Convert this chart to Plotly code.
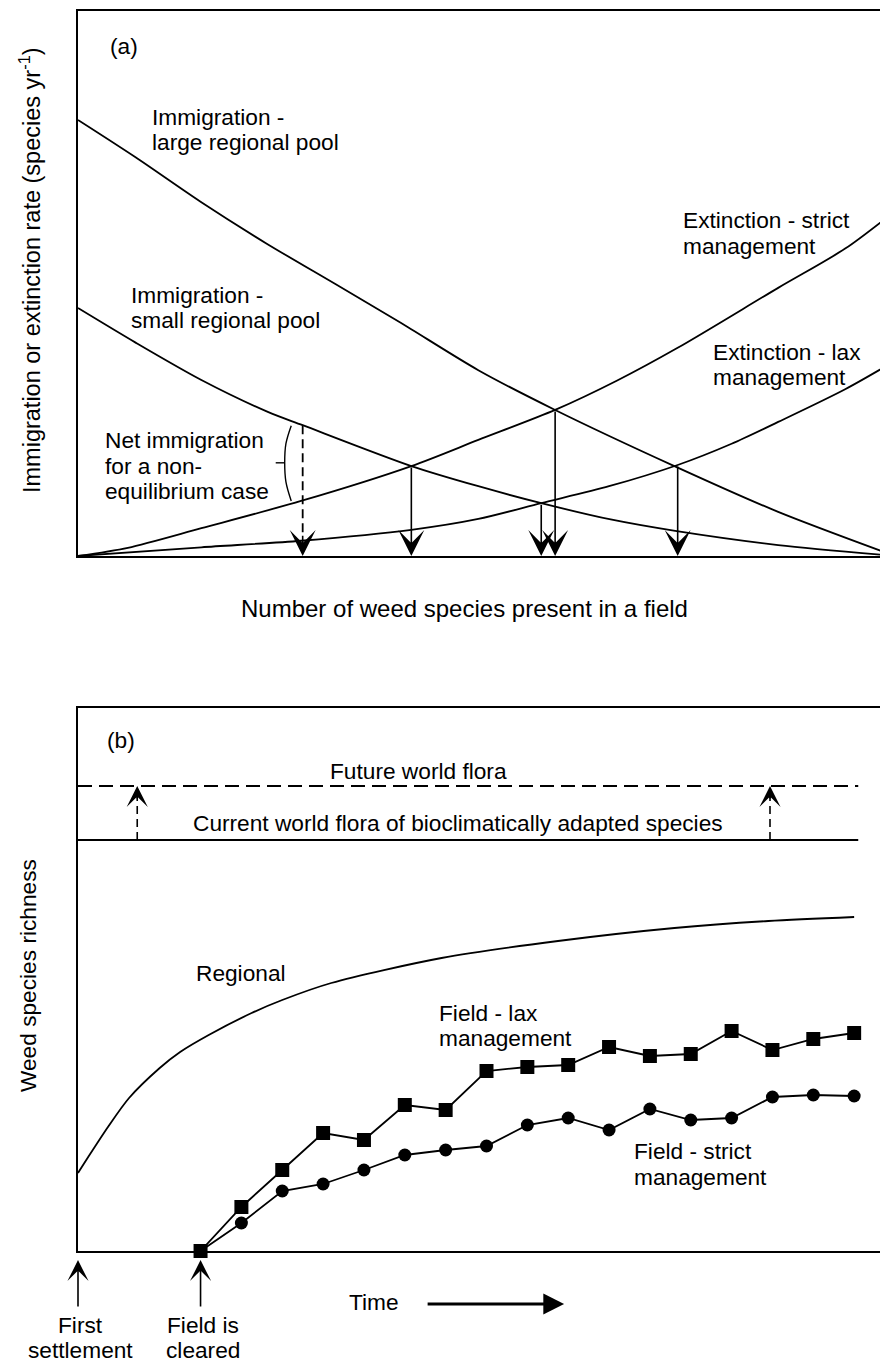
import plotly.graph_objects as go

# ---------------- Panel (a) data (x: species present 0-100, y: rate 0-100) ----------------
a_large_x = [0, 7, 15, 23, 31.5, 39.5, 49, 58.4, 73, 85.7, 100]
a_large_y = [80, 73.2, 65.0, 57.4, 49.9, 42.8, 34.1, 26.8, 16.5, 8.1, 0]
a_small_x = [0, 7, 15.1, 23.3, 27.5, 40.8, 49, 56.7, 65.2, 73.1, 85.7, 100]
a_small_y = [45.5, 39.2, 32.3, 26.4, 24.0, 16.5, 12.8, 9.7, 6.7, 4.6, 2.0, 0]
a_strict_x = [0, 6.1, 15.1, 27.3, 40.8, 49, 58.4, 66, 73.4, 85.7, 93.9, 100]
a_strict_y = [0, 1.5, 5.1, 10.1, 16.5, 21.3, 26.8, 32.2, 38.2, 49.2, 56.4, 63.3]
a_lax_x = [0, 15.1, 27.3, 40.8, 49, 56.7, 65, 73.4, 80, 85.7, 93.9, 100]
a_lax_y = [0, 1.6, 2.8, 4.8, 6.8, 9.7, 12.8, 16.7, 20.6, 24.6, 30.6, 35.8]
# equilibrium points (intersections) -> arrows down to the x axis
a_eq_x = [40.8, 56.7, 58.4, 73.4]
a_eq_y = [16.5, 9.7, 26.8, 16.7]
# non-equilibrium case
a_neq_x = 27.5
a_neq_top = 24.0
bracket_x = [26.1, 25.45, 25.3, 25.45, 26.1]
bracket_y = [23.9, 20.6, 17.1, 13.6, 10.1]
bracket_tick_x = [24.2, 25.3]

# ---------------- Panel (b) data (x: time, y: richness) ----------------
b_time = [3, 4, 5, 6, 7, 8, 9, 10, 11, 12, 13, 14, 15, 16, 17, 18, 19]
b_lax = [0, 44, 81, 118, 111, 146, 141, 180, 184, 186, 204, 195, 197, 220, 201, 212, 218]
b_strict = [0, 28, 60, 67, 81, 96, 101, 105, 126, 133, 121, 142, 131, 133, 154, 156, 155]
reg_time = [0, 0.25, 0.75, 1.25, 2, 2.5, 3.2, 4.25, 5, 6.2, 8.9, 11.75, 14.6, 16.9, 19]
reg_vals = [78, 94, 125, 153, 183, 199, 216, 238, 251, 268, 293, 310, 323, 330, 334]
flora_current = 411
flora_future = 465
flora_end = 19.1
flora_arrow_t = [1.45, 16.94]

W, H = 888, 1364
FONT = "Liberation Sans, Arial, Helvetica, sans-serif"
FS = 22.7


def py(p):
    return 1 - p / H


fig = go.Figure()

for xs, ys in [(a_large_x, a_large_y), (a_small_x, a_small_y),
               (a_strict_x, a_strict_y), (a_lax_x, a_lax_y)]:
    fig.add_trace(go.Scatter(x=xs, y=ys, mode="lines",
                             line=dict(color="black", width=1.8, shape="spline", smoothing=0.8),
                             xaxis="x", yaxis="y", hoverinfo="skip", cliponaxis=False))

fig.add_trace(go.Scatter(x=[a_neq_x, a_neq_x], y=[a_neq_top, 3.5], mode="lines",
                         line=dict(color="black", width=1.8, dash="9px,5px"), xaxis="x", yaxis="y"))
fig.add_trace(go.Scatter(x=bracket_x, y=bracket_y, mode="lines",
                         line=dict(color="black", width=1.4, shape="spline"), xaxis="x", yaxis="y"))
fig.add_trace(go.Scatter(x=bracket_tick_x, y=[bracket_y[2], bracket_y[2]], mode="lines",
                         line=dict(color="black", width=1.4), xaxis="x", yaxis="y"))

# panel b lines
fig.add_trace(go.Scatter(x=[0, flora_end], y=[flora_current, flora_current], mode="lines",
                         line=dict(color="black", width=1.8), xaxis="x2", yaxis="y2"))
fig.add_trace(go.Scatter(x=[0, flora_end], y=[flora_future, flora_future], mode="lines",
                         line=dict(color="black", width=1.8, dash="14px,7px"), xaxis="x2", yaxis="y2"))
for t in flora_arrow_t:
    fig.add_trace(go.Scatter(x=[t, t], y=[flora_current, flora_future - 10], mode="lines",
                             line=dict(color="black", width=1.6, dash="8px,5px"), xaxis="x2", yaxis="y2"))
fig.add_trace(go.Scatter(x=reg_time, y=reg_vals, mode="lines",
                         line=dict(color="black", width=1.8, shape="spline", smoothing=0.8),
                         xaxis="x2", yaxis="y2", cliponaxis=False))
fig.add_trace(go.Scatter(x=b_time, y=b_strict, mode="lines+markers",
                         line=dict(color="black", width=1.8),
                         marker=dict(symbol="circle", size=13, color="black"),
                         xaxis="x2", yaxis="y2", cliponaxis=False))
fig.add_trace(go.Scatter(x=b_time, y=b_lax, mode="lines+markers",
                         line=dict(color="black", width=1.8),
                         marker=dict(symbol="square", size=14, color="black"),
                         xaxis="x2", yaxis="y2", cliponaxis=False))

ann = []


def txt(x, y, s, xref="x", yref="y", xanchor="left", size=FS, **kw):
    ann.append(dict(x=x, y=y, text=s, xref=xref, yref=yref, xanchor=xanchor, yanchor="middle",
                    showarrow=False, font=dict(family=FONT, size=size, color="black"), **kw))


# panel a texts
txt(3.67, 93.6, "(a)")
txt(8.8, 80.6, "Immigration -")
txt(8.8, 76.0, "large regional pool")
txt(6.2, 47.9, "Immigration -")
txt(6.2, 43.3, "small regional pool")
txt(3.06, 21.3, "Net immigration")
txt(3.06, 16.6, "for a non-")
txt(3.06, 11.9, "equilibrium case")
txt(73.8, 61.6, "Extinction - strict")
txt(73.8, 56.9, "management")
txt(77.5, 37.5, "Extinction - lax")
txt(77.5, 32.8, "management")

ARW = dict(showarrow=True, arrowhead=3, arrowsize=2.7, arrowwidth=1.6, arrowcolor="black", standoff=0)

# panel a arrows (equilibria)
for xe, ye in zip(a_eq_x, a_eq_y):
    ann.append(dict(x=xe, y=0, ax=xe, ay=ye, xref="x", yref="y", axref="x", ayref="y", text="", **ARW))
ann.append(dict(x=a_neq_x, y=0, ax=a_neq_x, ay=4.0, xref="x", yref="y", axref="x", ayref="y", text="", **ARW))

# axis titles panel a
ann.append(dict(x=22 / W, y=py(262), xref="paper", yref="paper",
                text="Immigration or extinction rate (species yr<sup>-1</sup>)",
                textangle=-90, showarrow=False, xanchor="center", yanchor="middle",
                font=dict(family=FONT, size=23.5, color="black")))
ann.append(dict(x=231 / W, y=py(600), xref="paper", yref="paper",
                text="Number of weed species present in a field",
                showarrow=False, xanchor="left", yanchor="middle",
                font=dict(family=FONT, size=24, color="black")))

# panel b texts
txt(0.66, 511, "(b)", xref="x2", yref="y2")
txt(6.12, 480, "Future world flora", xref="x2", yref="y2")
txt(2.77, 428, "Current world flora of bioclimatically adapted species", xref="x2", yref="y2")
txt(2.85, 278, "Regional", xref="x2", yref="y2")
txt(8.8, 238, "Field - lax", xref="x2", yref="y2")
txt(8.8, 213, "management", xref="x2", yref="y2")
txt(13.55, 100, "Field - strict", xref="x2", yref="y2")
txt(13.55, 74, "management", xref="x2", yref="y2")

for t in flora_arrow_t:
    ann.append(dict(x=t, y=flora_future, ax=t, ay=flora_future - 14, xref="x2", yref="y2",
                    axref="x2", ayref="y2", text="",
                    showarrow=True, arrowhead=3, arrowsize=2.2, arrowwidth=1.6, arrowcolor="black", standoff=0))

ann.append(dict(x=20 / W, y=py(968), xref="paper", yref="paper", text="Weed species richness",
                textangle=-90, showarrow=False, xanchor="center", yanchor="middle",
                font=dict(family=FONT, size=FS, color="black")))

# bottom annotations of panel b
for t, l1, l2 in [(0, "First", "settlement"), (3, "Field is", "cleared")]:
    ann.append(dict(x=t, y=py(1252), xref="x2", yref="paper", ax=0, ay=48, text="",
                    showarrow=True, arrowhead=3, arrowsize=2.2, arrowwidth=1.6, arrowcolor="black", standoff=0))
    txt(t + 0.07, py(1317), l1, xref="x2", yref="paper", xanchor="center")
    txt(t + 0.07, py(1342), l2, xref="x2", yref="paper", xanchor="center")

txt(7.25, py(1294), "Time", xref="x2", yref="paper", xanchor="center")
ann.append(dict(x=11.9, y=py(1296), xref="x2", yref="paper", ax=-138, ay=0, text="", showarrow=True,
                arrowhead=2, arrowsize=1.3, arrowwidth=3.2, arrowcolor="black", standoff=0))

axis_common = dict(showline=True, mirror=True, linecolor="black", linewidth=2, showgrid=False,
                   zeroline=False, showticklabels=False, ticks="", fixedrange=True)

fig.update_layout(
    width=W, height=H, margin=dict(l=0, r=0, t=0, b=0),
    paper_bgcolor="white", plot_bgcolor="white", showlegend=False,
    font=dict(family=FONT, size=FS, color="black"),
    xaxis=dict(domain=[70 / W, 887 / W], range=[0, 100], anchor="y", **axis_common),
    yaxis=dict(domain=[py(548), py(3)], range=[0, 100], anchor="x", **axis_common),
    xaxis2=dict(domain=[70 / W, 887 / W], range=[0, 20], anchor="y2", **axis_common),
    yaxis2=dict(domain=[py(1243), py(700)], range=[0, 543], anchor="x2", **axis_common),
    annotations=ann,
)

fig.write_html("out.html")
